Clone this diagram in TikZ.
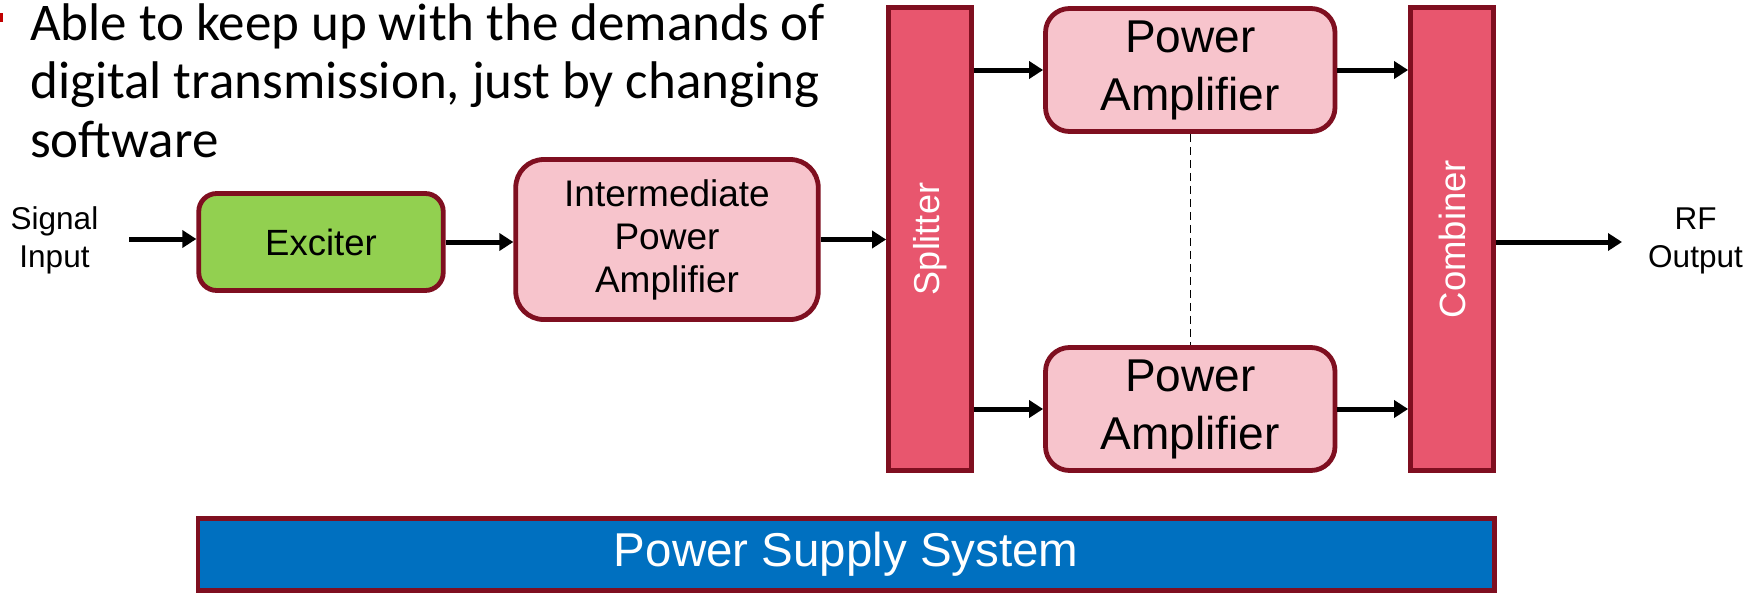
\documentclass[tikz,border=0pt]{standalone}
\usepackage{fontspec}
\setmainfont{Liberation Sans}
\newfontfamily\calib{Carlito}
\usetikzlibrary{arrows.meta}
\definecolor{bord}{HTML}{7F0F20}
\definecolor{exgreen}{HTML}{92D050}
\definecolor{papink}{HTML}{F7C4CC}
\definecolor{barred}{HTML}{E8566E}
\definecolor{psblue}{HTML}{0070C0}
\definecolor{bulletred}{HTML}{C00000}
\begin{document}
\begin{tikzpicture}[x=1pt,y=-1pt,
  box/.style={draw=bord, line width=4.8pt, inner sep=0pt, align=center},
  arr/.style={line width=5pt, -{Triangle[length=14pt,width=17pt]}},
  bar/.style={box, fill=barred, minimum width=83pt, minimum height=463pt},
  pabox/.style={box, fill=papink, rounded corners=24pt, minimum width=289.5pt, minimum height=123pt,
    font=\fontsize{46}{58}\selectfont},
  side/.style={align=center, inner sep=0pt, font=\fontsize{31.5}{38}\selectfont}]
\useasboundingbox (0,0) rectangle (1762,595);
% bullet remnant
\fill[bulletred] (0,13) rectangle (2.7,22);
\node[anchor=base west, inner sep=0pt, align=left, font=\calib\fontsize{53}{58.5}\selectfont]
  (bullet) at (30,157) {Able to keep up with the demands of\\digital transmission, just by changing\\software};
% blocks
\node[box, fill=exgreen, rounded corners=18pt, minimum width=244.5pt, minimum height=97pt,
  font=\fontsize{36.5}{44}\selectfont] (exciter) at (321,242) {Exciter};
\node[box, fill=papink, rounded corners=28pt, minimum width=302.5pt, minimum height=160pt,
  font=\fontsize{37}{43}\selectfont] (ipa) at (667,239.5) {Intermediate\\Power\\Amplifier};
\node[bar, label={[rotate=90, text=white, font=\fontsize{36}{40}\selectfont]center:Splitter}] (splitter) at (930,239) {};
\node[pabox] (pa1) at (1190.25,70) {Power\\Amplifier};
\node[pabox] (pa2) at (1190.25,409) {Power\\Amplifier};
\node[bar, label={[rotate=90, text=white, font=\fontsize{36.5}{40}\selectfont]center:Combiner}] (combiner) at (1452,239) {};
\node[box, fill=psblue, minimum width=1296.5pt, minimum height=72pt, text=white,
  font=\fontsize{47.5}{52}\selectfont] (psu) at (846.25,554.5) {Power Supply System};
% side labels
\node[side] (sig) at (54.5,240) {Signal\\Input};
\node[side] (rf) at (1695.5,241) {RF\\Output};
\coordinate (sigstart) at (129,239);
\coordinate (rfend) at (1622,242);
% connectors
\draw[arr] (sigstart) -- (sigstart -| exciter.west);
\draw[arr] (exciter.east) -- (exciter.east -| ipa.west);
\draw[arr] (ipa.east) -- (ipa.east -| splitter.west);
\draw[arr] (splitter.east |- pa1.west) -- (pa1.west);
\draw[arr] (splitter.east |- pa2.west) -- (pa2.west);
\draw[arr] (pa1.east) -- (pa1.east -| combiner.west);
\draw[arr] (pa2.east) -- (pa2.east -| combiner.west);
\draw[arr] (combiner.east |- rfend) -- (rfend);
\draw[line width=1.5pt, dash pattern=on 8pt off 5pt] (pa1.south) -- (pa2.north);
\end{tikzpicture}
\end{document}
